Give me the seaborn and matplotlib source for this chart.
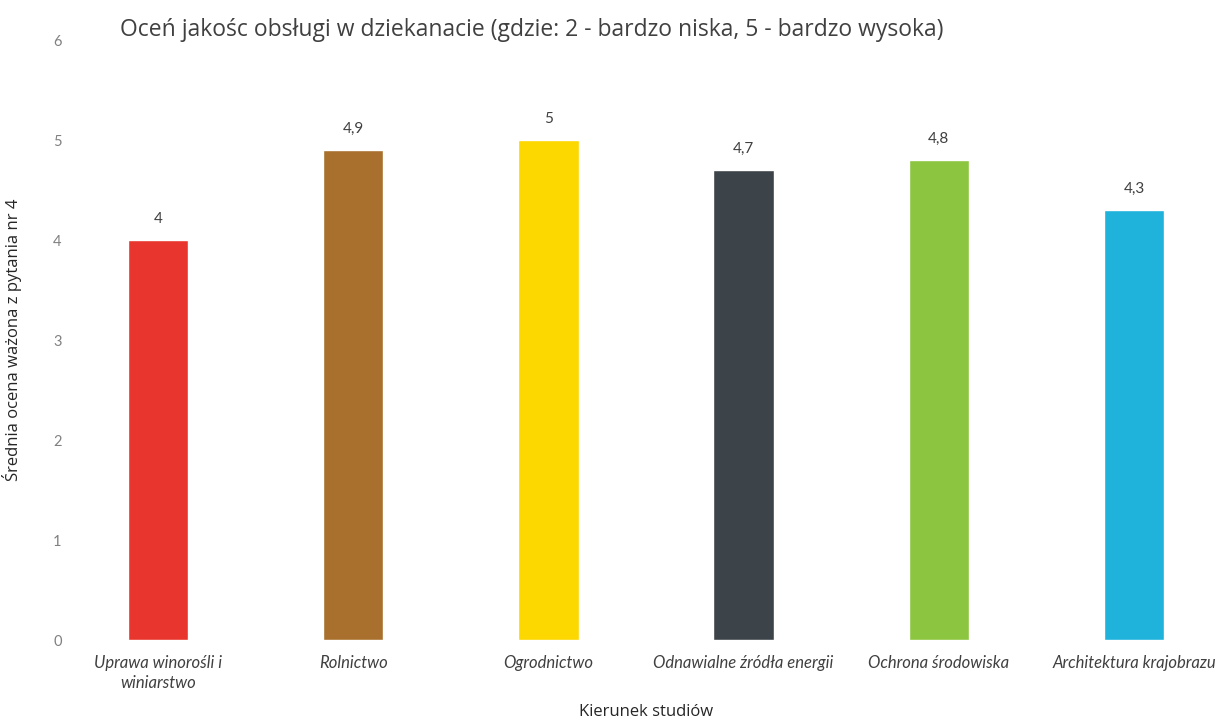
import matplotlib
matplotlib.use("Agg")
import matplotlib.pyplot as plt
import pandas as pd
import seaborn as sns

# Data
kierunki = ["Uprawa winorośli i\nwiniarstwo", "Rolnictwo", "Ogrodnictwo",
            "Odnawialne źródła energii", "Ochrona środowiska", "Architektura krajobrazu"]
oceny = [4.0, 4.9, 5.0, 4.7, 4.8, 4.3]
kolory = ["#e8362e", "#a8702c", "#fcd700", "#3d4449", "#8cc540", "#1fb3dc"]

df = pd.DataFrame({"kierunek": kierunki, "ocena": oceny})

sns.set_style("white")
plt.rcParams["font.family"] = ["Lato", "DejaVu Sans"]
opensans = ["Open Sans", "DejaVu Sans"]

fig = plt.figure(figsize=(12.21, 7.24), dpi=100)
ax = fig.add_axes([95 / 1221, 84 / 724, 1120 / 1221, 600 / 724])

sns.barplot(data=df, x="kierunek", y="ocena", hue="kierunek", palette=kolory,
            legend=False, width=0.31, saturation=1, ax=ax)

# data labels with decimal comma
for cont, v in zip(ax.containers, oceny):
    ax.bar_label(cont, labels=[f"{v:g}".replace(".", ",")], padding=10,
                 fontsize=11, color="#404040")

ax.set_ylim(0, 6)
ax.set_xlim(-0.3227, 5.415)
ax.set_yticks(range(0, 7))
ax.tick_params(axis="y", labelsize=10.5, labelcolor="#808080", pad=24, length=0)
ax.tick_params(axis="x", labelsize=12, labelcolor="#404040", pad=11, length=0)
for lab in ax.get_xticklabels():
    lab.set_fontstyle("italic")
    lab.set_linespacing(1.3)
sns.despine(ax=ax, left=True, bottom=True)

ax.set_xlabel("")
fig.text(646 / 1221, 1 - 712 / 724, "Kierunek studiów", fontsize=12, color="#262626",
         ha="center", va="center", family=opensans)
ax.set_ylabel("Średnia ocena ważona z pytania nr 4", fontsize=12, color="#262626",
              labelpad=22, family=opensans)
fig.text(120 / 1221, 1 - 30 / 724,
         "Oceń jakośc obsługi w dziekanacie (gdzie: 2 - bardzo niska, 5 - bardzo wysoka)",
         fontsize=16.5, color="#404040", va="center", ha="left", family=opensans)

fig.savefig("out.png", dpi=100)
